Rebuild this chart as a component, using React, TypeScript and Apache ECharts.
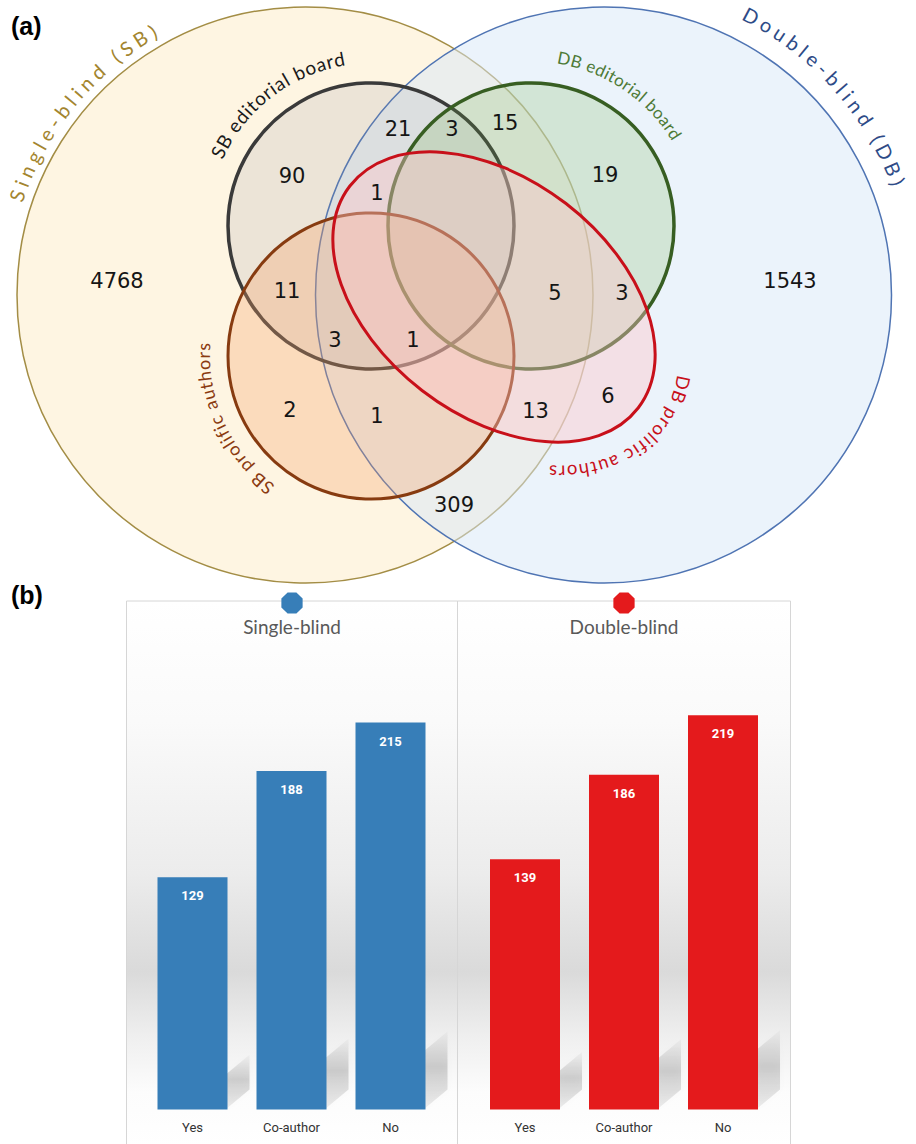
import React, { useEffect, useRef } from "react";
import * as echarts from "echarts";

// ---------- data ----------
const barCategories = ["Yes", "Co-author", "No"];
const singleBlindValues = [129, 188, 215];
const doubleBlindValues = [139, 186, 219];
const panelTitles = ["Single-blind", "Double-blind"];

const setLabels = [
  "Single-blind (SB)",
  "Double-blind (DB)",
  "SB editorial board",
  "DB editorial board",
  "SB prolific authors",
  "DB prolific authors",
];
const vennCounts = [4768, 1543, 90, 21, 3, 15, 19, 1, 11, 5, 3, 3, 1, 2, 1, 13, 6, 309];

// ---------- layout (pixels) ----------
const countPos: [number, number][] = [
  [117, 281], [790, 281], [292, 176], [398, 129], [452, 128.5], [505, 122.5],
  [605, 174.5], [377, 192.5], [287, 291], [555, 293], [622, 293], [335, 340],
  [413, 340], [290, 410], [377, 415.5], [535.5, 410.5], [608, 395.5], [454, 505],
];

const W = 916;
const H = 1144;

let measureCtx: CanvasRenderingContext2D | null = null;
function textWidth(s: string, font: string) {
  if (!measureCtx) measureCtx = document.createElement("canvas").getContext("2d");
  measureCtx!.font = font;
  return measureCtx!.measureText(s).width;
}

const rad = (d: number) => (d * Math.PI) / 180;
const circleFn = (cx: number, cy: number, r: number) => (t: number) =>
  [cx + r * Math.cos(rad(t)), cy + r * Math.sin(rad(t))];
const ellipseFn = (cx: number, cy: number, a: number, b: number, th: number) => (t: number) => {
  const lx = a * Math.cos(rad(t));
  const ly = b * Math.sin(rad(t));
  const c = Math.cos(rad(th));
  const s = Math.sin(rad(th));
  return [cx + lx * c - ly * s, cy + lx * s + ly * c];
};

function curvedText(
  text: string, fontSize: number, family: string, color: string,
  fn: (t: number) => number[], t0: number, t1: number, weight = "normal"
) {
  const font = `${weight} ${fontSize}px ${family}`;
  const chars = Array.from(text);
  const widths = chars.map((c) => textWidth(c, font));
  const N = 1000;
  const pts: number[][] = [];
  const cum: number[] = [0];
  for (let i = 0; i <= N; i++) {
    pts.push(fn(t0 + ((t1 - t0) * i) / N));
    if (i > 0) cum.push(cum[i - 1] + Math.hypot(pts[i][0] - pts[i - 1][0], pts[i][1] - pts[i - 1][1]));
  }
  const L = cum[N];
  const Wt = widths.reduce((a, b) => a + b, 0);
  const gap = chars.length > 1 ? (L - Wt) / (chars.length - 1) : 0;
  let s = 0;
  const els: any[] = [];
  chars.forEach((c, i) => {
    const sc = s + widths[i] / 2;
    s += widths[i] + gap;
    if (c === " ") return;
    let k = 1;
    while (k < N && cum[k] < sc) k++;
    const f = (sc - cum[k - 1]) / (cum[k] - cum[k - 1] || 1);
    const x = pts[k - 1][0] + f * (pts[k][0] - pts[k - 1][0]);
    const y = pts[k - 1][1] + f * (pts[k][1] - pts[k - 1][1]);
    const ang = Math.atan2(pts[k][1] - pts[k - 1][1], pts[k][0] - pts[k - 1][0]);
    els.push({
      type: "text", x, y, rotation: -ang, z: 20, silent: true,
      style: {
        text: c, font, fill: color,
        align: "center", verticalAlign: "middle",
        textAlign: "center", textVerticalAlign: "middle",
      },
    });
  });
  return els;
}

function octagon(cx: number, cy: number, r: number) {
  const p: number[][] = [];
  for (let i = 0; i < 8; i++) {
    const a = rad(22.5 + i * 45);
    p.push([cx + r * Math.cos(a), cy + r * Math.sin(a)]);
  }
  return p;
}

// soft diagonal floor shadow behind each bar (derived from the bar's own coordinates)
function shadowRenderItem(params: any, api: any) {
  const idx = api.value(0);
  const val = api.value(1);
  const top = api.coord([idx, val]);
  const base = api.coord([idx, 0]);
  const bw = 70;
  const xr = base[0] + bw / 2 - 2;
  const yb = base[1];
  const h = base[1] - top[1];
  const t = h * 0.15;
  const dx = 24;
  const dy = 20;
  return {
    type: "polygon",
    shape: { points: [[xr, yb], [xr, yb - t], [xr + dx, yb - t - dy], [xr + dx, yb - dy]] },
    style: {
      fill: new echarts.graphic.LinearGradient(0, 0, 0, 1, [
        { offset: 0, color: "rgba(0,0,0,0.02)" },
        { offset: 0.45, color: "rgba(0,0,0,0.16)" },
        { offset: 1, color: "rgba(0,0,0,0.06)" },
      ]),
      shadowBlur: 6,
      shadowColor: "rgba(0,0,0,0.15)",
    },
    silent: true,
  };
}

export default function App() {
  const ref = useRef<HTMLDivElement>(null);
  useEffect(() => {
    document.body.style.margin = "0";
    const chart = echarts.init(ref.current!, null, { renderer: "svg" });

    const labelFont = "Lato, 'Open Sans', sans-serif";
    const graphics: any[] = [];

    // panel backgrounds (b)
    const panelTop = 601;
    const panels = [
      [126.5, 457.5],
      [457.5, 790.5],
    ];
    panels.forEach(([x0, x1]) => {
      graphics.push({
        type: "rect", z: 0, silent: true,
        shape: { x: x0, y: panelTop, width: x1 - x0, height: H - panelTop + 2 },
        style: {
          fill: new echarts.graphic.LinearGradient(0, 0, 0, 1, [
            { offset: 0, color: "#ffffff" },
            { offset: 0.22, color: "#fafafa" },
            { offset: 0.5, color: "#ececec" },
            { offset: 0.68, color: "#dadada" },
            { offset: 0.8, color: "#efefef" },
            { offset: 0.9, color: "#fcfcfc" },
            { offset: 1, color: "#ffffff" },
          ]),
          stroke: "#d6d6d6", lineWidth: 1,
        },
      });
    });
    const markerColors = ["#377eb8", "#e41a1c"];
    panels.forEach(([x0, x1], i) => {
      const cx = (x0 + x1) / 2;
      graphics.push({
        type: "polygon", z: 5, silent: true,
        shape: { points: octagon(cx, 603, 11.5) },
        style: { fill: markerColors[i] },
      });
      graphics.push({
        type: "text", z: 5, x: cx, y: 626, silent: true,
        style: {
          text: panelTitles[i], font: `19px ${labelFont}`, fill: "#595959",
          align: "center", verticalAlign: "middle", textAlign: "center", textVerticalAlign: "middle",
        },
      });
    });

    // Venn shapes
    graphics.push({
      type: "circle", z: 1, silent: true, shape: { cx: 305, cy: 295, r: 288 },
      style: { fill: "#fef5e2", stroke: "#a38d45", lineWidth: 1.5 },
    });
    graphics.push({
      type: "circle", z: 2, silent: true, shape: { cx: 603.5, cy: 295, r: 288 },
      style: { fill: "rgba(215,231,247,0.5)", stroke: "#4f74b3", lineWidth: 1.5 },
    });
    graphics.push({
      type: "circle", z: 3, silent: true, shape: { cx: 371, cy: 226, r: 143 },
      style: { fill: "rgba(150,150,160,0.17)", stroke: "#3a3a3a", lineWidth: 3.5 },
    });
    graphics.push({
      type: "circle", z: 4, silent: true, shape: { cx: 531, cy: 226, r: 143 },
      style: { fill: "rgba(112,173,71,0.2)", stroke: "#375e22", lineWidth: 3.5 },
    });
    graphics.push({
      type: "circle", z: 5, silent: true, shape: { cx: 371, cy: 356, r: 143 },
      style: { fill: "rgba(245,160,100,0.3)", stroke: "#873b10", lineWidth: 3 },
    });
    graphics.push({
      type: "ellipse", z: 6, silent: true, x: 494, y: 297, rotation: -rad(37.6),
      shape: { cx: 0, cy: 0, rx: 182, ry: 118 },
      style: { fill: "rgba(255,195,200,0.4)", stroke: "#c8101a", lineWidth: 3 },
    });

    // curved set labels
    graphics.push(...curvedText(setLabels[0], 20, labelFont, "#a3852f", circleFn(305, 295, 305), 198, 240.5));
    graphics.push(...curvedText(setLabels[1], 20, labelFont, "#2e4b87", circleFn(603.5, 295, 316), -63.5, -20.5));
    graphics.push(...curvedText(setLabels[2], 19, labelFont, "#1a1a1a", circleFn(371, 226, 170), 204, 261));
    graphics.push(...curvedText(setLabels[3], 17, labelFont, "#4d7a36", circleFn(531, 226, 171), -81, -31));
    graphics.push(...curvedText(setLabels[4], 18, labelFont, "#8a3a10", circleFn(371, 356, 168), 126.5, 184.5));
    graphics.push(...curvedText(setLabels[5], 18.5, labelFont, "#c8101a", ellipseFn(494, 297, 213, 149, 37.6), -21, 45));

    // region counts
    vennCounts.forEach((v, i) => {
      graphics.push({
        type: "text", z: 20, silent: true, x: countPos[i][0], y: countPos[i][1],
        style: {
          text: String(v), font: "21px 'DejaVu Sans', sans-serif", fill: "#151515",
          align: "center", verticalAlign: "middle", textAlign: "center", textVerticalAlign: "middle",
        },
      });
    });

    // panel letters
    graphics.push({
      type: "text", z: 20, silent: true, x: 11, y: 26,
      style: { text: "(a)", font: "bold 25px 'Liberation Sans', Arial, sans-serif", fill: "#000",
        align: "left", verticalAlign: "middle", textAlign: "left", textVerticalAlign: "middle" },
    });
    graphics.push({
      type: "text", z: 20, silent: true, x: 11, y: 595,
      style: { text: "(b)", font: "bold 25px 'Liberation Sans', Arial, sans-serif", fill: "#000",
        align: "left", verticalAlign: "middle", textAlign: "left", textVerticalAlign: "middle" },
    });

    const gridTop = 659.5;
    const gridH = 450;
    const axisCommon = {
      type: "category" as const,
      data: barCategories,
      axisLine: { show: false },
      axisTick: { show: false },
      axisLabel: { color: "#333", fontSize: 13, margin: 11, fontFamily: "'Liberation Sans Narrow', Roboto, sans-serif" },
    };
    const yCommon = { type: "value" as const, min: 0, max: 250, show: false, splitLine: { show: false } };
    const barLabel = {
      show: true, position: "insideTop" as const, distance: 12, color: "#ffffff",
      fontWeight: "bold" as const, fontSize: 13, fontFamily: "Roboto, sans-serif",
    };

    chart.setOption({
      animation: false,
      backgroundColor: "#ffffff",
      grid: [
        { left: 143, top: gridTop, width: 297, height: gridH },
        { left: 475.5, top: gridTop, width: 297, height: gridH },
      ],
      xAxis: [
        { ...axisCommon, gridIndex: 0 },
        { ...axisCommon, gridIndex: 1 },
      ],
      yAxis: [
        { ...yCommon, gridIndex: 0 },
        { ...yCommon, gridIndex: 1 },
      ],
      series: [
        {
          type: "custom", xAxisIndex: 0, yAxisIndex: 0, z: 3, silent: true, clip: false,
          data: singleBlindValues.map((v, i) => [i, v]), renderItem: shadowRenderItem,
        },
        {
          type: "custom", xAxisIndex: 1, yAxisIndex: 1, z: 3, silent: true, clip: false,
          data: doubleBlindValues.map((v, i) => [i, v]), renderItem: shadowRenderItem,
        },
        {
          type: "bar", name: panelTitles[0], xAxisIndex: 0, yAxisIndex: 0, data: singleBlindValues,
          barWidth: 70, itemStyle: { color: markerColors[0] }, label: barLabel, z: 10,
        },
        {
          type: "bar", name: panelTitles[1], xAxisIndex: 1, yAxisIndex: 1, data: doubleBlindValues,
          barWidth: 70, itemStyle: { color: markerColors[1] }, label: barLabel, z: 10,
        },
      ],
      graphic: { elements: graphics },
    });
    return () => chart.dispose();
  }, []);
  return <div ref={ref} style={{ width: W, height: H }} />;
}
